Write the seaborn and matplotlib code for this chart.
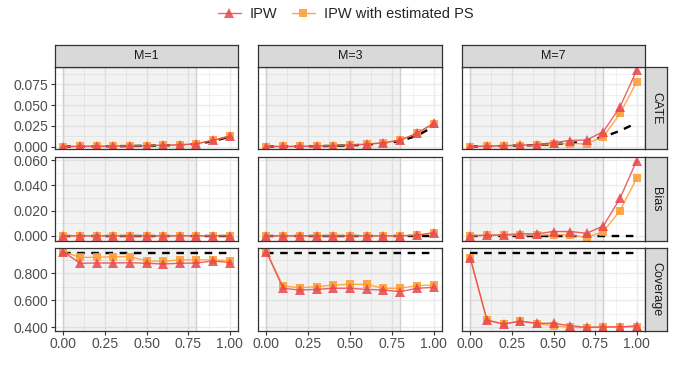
import numpy as np
import pandas as pd
import matplotlib
matplotlib.use("Agg")
import matplotlib.pyplot as plt
from matplotlib.ticker import FixedLocator, FormatStrFormatter
import seaborn as sns

# ---------------- data ----------------
x_vals = [0.0, 0.1, 0.2, 0.3, 0.4, 0.5, 0.6, 0.7, 0.8, 0.9, 1.0]
m_labels = ["M=1", "M=3", "M=7"]
metrics = ["CATE", "Bias", "Coverage"]
methods = ["IPW", "IPW with estimated PS"]

cate_ipw_m1 = [0.0, 0.0002, 0.0003, 0.0005, 0.0007, 0.0010, 0.0015, 0.0020, 0.0033, 0.0075, 0.0125]
cate_est_m1 = [0.0, 0.0002, 0.0003, 0.0005, 0.0007, 0.0010, 0.0015, 0.0020, 0.0033, 0.0073, 0.0122]
cate_true_m1 = [0.0, 0.0001, 0.0002, 0.0004, 0.0006, 0.0009, 0.0013, 0.0019, 0.0031, 0.0065, 0.0118]

cate_ipw_m3 = [0.0, 0.0001, 0.0002, 0.0005, 0.0010, 0.0018, 0.0028, 0.0045, 0.0078, 0.0160, 0.0280]
cate_est_m3 = [0.0, 0.0001, 0.0002, 0.0005, 0.0010, 0.0018, 0.0028, 0.0045, 0.0077, 0.0158, 0.0276]
cate_true_m3 = [0.0, 0.0001, 0.0002, 0.0004, 0.0008, 0.0014, 0.0023, 0.0038, 0.0065, 0.0130, 0.0240]

cate_ipw_m7 = [0.0, 0.0005, 0.0010, 0.0017, 0.0022, 0.0048, 0.0072, 0.0080, 0.0180, 0.0480, 0.0920]
cate_est_m7 = [0.0, 0.0004, 0.0008, 0.0012, 0.0015, 0.0030, 0.0036, 0.0033, 0.0120, 0.0400, 0.0780]
cate_true_m7 = [0.0, 0.0003, 0.0007, 0.0012, 0.0018, 0.0028, 0.0040, 0.0062, 0.0115, 0.0190, 0.0285]

bias_ipw_m1 = [0.0, 0.0, 0.0, 0.0, 0.0, 0.0, 0.0, 0.0, 0.0, 0.0, 0.0001]
bias_est_m1 = [0.0, 0.0, 0.0, 0.0, 0.0, 0.0, 0.0, 0.0, 0.0, 0.0, 0.0001]
bias_ipw_m3 = [0.0, 0.0, 0.0, 0.0, 0.0, 0.0, 0.0, 0.0, 0.0, 0.0005, 0.0025]
bias_est_m3 = [0.0, 0.0, 0.0, 0.0, 0.0, 0.0, 0.0, 0.0, 0.0, 0.0004, 0.0022]
bias_ipw_m7 = [0.0, 0.0005, 0.0008, 0.0016, 0.0016, 0.0034, 0.0034, 0.0020, 0.0079, 0.0297, 0.0595]
bias_est_m7 = [0.0, 0.0003, 0.0005, 0.0003, 0.0003, 0.0008, 0.0008, -0.0013, 0.0034, 0.0200, 0.0455]
bias_true = [0.0] * 11

cov_ipw_m1 = [0.960, 0.874, 0.876, 0.876, 0.878, 0.874, 0.869, 0.874, 0.876, 0.891, 0.879]
cov_est_m1 = [0.960, 0.918, 0.918, 0.923, 0.923, 0.891, 0.889, 0.899, 0.899, 0.899, 0.894]
cov_ipw_m3 = [0.960, 0.689, 0.676, 0.681, 0.689, 0.689, 0.681, 0.676, 0.664, 0.689, 0.696]
cov_est_m3 = [0.960, 0.706, 0.693, 0.701, 0.713, 0.718, 0.718, 0.689, 0.689, 0.709, 0.713]
cov_ipw_m7 = [0.911, 0.454, 0.424, 0.446, 0.430, 0.430, 0.412, 0.400, 0.403, 0.403, 0.412]
cov_est_m7 = [0.911, 0.454, 0.424, 0.446, 0.428, 0.412, 0.400, 0.398, 0.403, 0.403, 0.403]
cov_true = [0.95] * 11

x_ticks = [0.0, 0.25, 0.5, 0.75, 1.0]
y_ticks = {
    "CATE": [0.0, 0.025, 0.05, 0.075],
    "Bias": [0.0, 0.02, 0.04, 0.06],
    "Coverage": [0.4, 0.6, 0.8],
}

series = {
    ("CATE", "M=1"): (cate_ipw_m1, cate_est_m1, cate_true_m1),
    ("CATE", "M=3"): (cate_ipw_m3, cate_est_m3, cate_true_m3),
    ("CATE", "M=7"): (cate_ipw_m7, cate_est_m7, cate_true_m7),
    ("Bias", "M=1"): (bias_ipw_m1, bias_est_m1, bias_true),
    ("Bias", "M=3"): (bias_ipw_m3, bias_est_m3, bias_true),
    ("Bias", "M=7"): (bias_ipw_m7, bias_est_m7, bias_true),
    ("Coverage", "M=1"): (cov_ipw_m1, cov_est_m1, cov_true),
    ("Coverage", "M=3"): (cov_ipw_m3, cov_est_m3, cov_true),
    ("Coverage", "M=7"): (cov_ipw_m7, cov_est_m7, cov_true),
}

rows = []
for (metric, m), (ipw, est, tru) in series.items():
    for xi, a, b, c in zip(x_vals, ipw, est, tru):
        rows.append(dict(metric=metric, M=m, x=xi, method="IPW", value=a))
        rows.append(dict(metric=metric, M=m, x=xi, method="IPW with estimated PS", value=b))
        rows.append(dict(metric=metric, M=m, x=xi, method="Truth", value=c))
df = pd.DataFrame(rows)

# ---------------- style ----------------
sns.set_theme(style="white")
plt.rcParams["font.family"] = ["Liberation Sans", "DejaVu Sans"]

colors = {"IPW": "#E8474F", "IPW with estimated PS": "#FF9A2E"}
markers = {"IPW": "^", "IPW with estimated PS": "s"}

W, H = 691, 368
fig = plt.figure(figsize=(W / 100, H / 100), dpi=100)

col_x = [(55, 238), (258, 442), (462, 645)]
row_y = [(67, 149), (157, 241), (248, 331)]
ylims = {"CATE": (-0.003, 0.096), "Bias": (-0.0041, 0.0624), "Coverage": (0.373, 0.987)}

border = "#333333"
grid_c = "#EBEBEB"

handles = {}
for ri, metric in enumerate(metrics):
    for ci, m in enumerate(m_labels):
        x0, x1 = col_x[ci]
        y0, y1 = row_y[ri]
        ax = fig.add_axes([x0 / W, 1 - y1 / H, (x1 - x0) / W, (y1 - y0) / H])
        ax.set_xlim(-0.05, 1.05)
        ax.set_ylim(*ylims[metric])
        ax.set_facecolor("white")
        # grid
        yt = y_ticks[metric]
        step = yt[1] - yt[0]
        ymin, ymax = ylims[metric]
        for v in np.arange(yt[0] - step, yt[-1] + 2 * step, step / 2):
            if ymin < v < ymax:
                major = np.isclose(((v - yt[0]) / step) % 1, 0) or np.isclose(((v - yt[0]) / step) % 1, 1)
                ax.axhline(v, color=grid_c, lw=1.0 if major else 0.5, zorder=0)
        for v in np.arange(0, 1.0001, 0.125):
            major = np.isclose((v / 0.25) % 1, 0)
            ax.axvline(v, color=grid_c, lw=1.0 if major else 0.5, zorder=0)
        # shaded region
        ax.axvspan(0, 0.8, facecolor="black", alpha=0.05, lw=0, zorder=0.5)
        ax.axvline(0, color="#D0D0D0", lw=1.0, zorder=0.6)
        ax.axvline(0.8, color="#D0D0D0", lw=1.0, zorder=0.6)

        sub = df[(df.metric == metric) & (df.M == m)]
        truth = sub[sub.method == "Truth"]
        sns.lineplot(data=truth, x="x", y="value", ax=ax, color="black", lw=1.7,
                     linestyle=(0, (3.2, 2.8)), legend=False, zorder=2)
        for meth in ["IPW with estimated PS", "IPW"]:
            d = sub[sub.method == meth]
            sns.lineplot(data=d, x="x", y="value", ax=ax, color=colors[meth],
                         marker=markers[meth], markersize=6.5 if meth == "IPW" else 5.5,
                         markeredgewidth=0, lw=1.0, alpha=0.85, legend=False, zorder=3)
            handles[meth] = ax.lines[-1]

        ax.set_xlabel("")
        ax.set_ylabel("")
        ax.xaxis.set_major_locator(FixedLocator(x_ticks))
        ax.yaxis.set_major_locator(FixedLocator(yt))
        ax.xaxis.set_major_formatter(FormatStrFormatter("%.2f"))
        ax.yaxis.set_major_formatter(FormatStrFormatter("%.3f"))
        ax.tick_params(axis="both", which="major", length=3, width=0.8, color=border,
                       labelsize=10, labelcolor="#4D4D4D", pad=1.5,
                       bottom=(ri == 2), left=(ci == 0),
                       labelbottom=(ri == 2), labelleft=(ci == 0))
        for sp in ax.spines.values():
            sp.set_color(border)
            sp.set_linewidth(0.9)
            sp.set_zorder(5)

        # top strip
        if ri == 0:
            sax = fig.add_axes([x0 / W, 1 - 67 / H, (x1 - x0) / W, (67 - 45) / H])
            sax.set_facecolor("#D9D9D9")
            sax.set_xticks([]); sax.set_yticks([])
            for sp in sax.spines.values():
                sp.set_color(border); sp.set_linewidth(0.9)
            sax.text(0.5, 0.5, m, ha="center", va="center", fontsize=9, color="#1A1A1A",
                     transform=sax.transAxes)
        # right strip
        if ci == 2:
            rax = fig.add_axes([645 / W, 1 - y1 / H, (667 - 645) / W, (y1 - y0) / H])
            rax.set_facecolor("#D9D9D9")
            rax.set_xticks([]); rax.set_yticks([])
            for sp in rax.spines.values():
                sp.set_color(border); sp.set_linewidth(0.9)
            rax.text(0.5, 0.5, metric, ha="center", va="center", fontsize=9, color="#1A1A1A",
                     rotation=-90, transform=rax.transAxes)

leg = fig.legend([handles["IPW"], handles["IPW with estimated PS"]], methods,
                 loc="center", bbox_to_anchor=(0.5, 1 - 14 / H), ncol=2, frameon=False,
                 fontsize=10.5, handlelength=1.6, handletextpad=0.6, columnspacing=1.0,
                 borderaxespad=0)

fig.savefig("out.png", dpi=100)
